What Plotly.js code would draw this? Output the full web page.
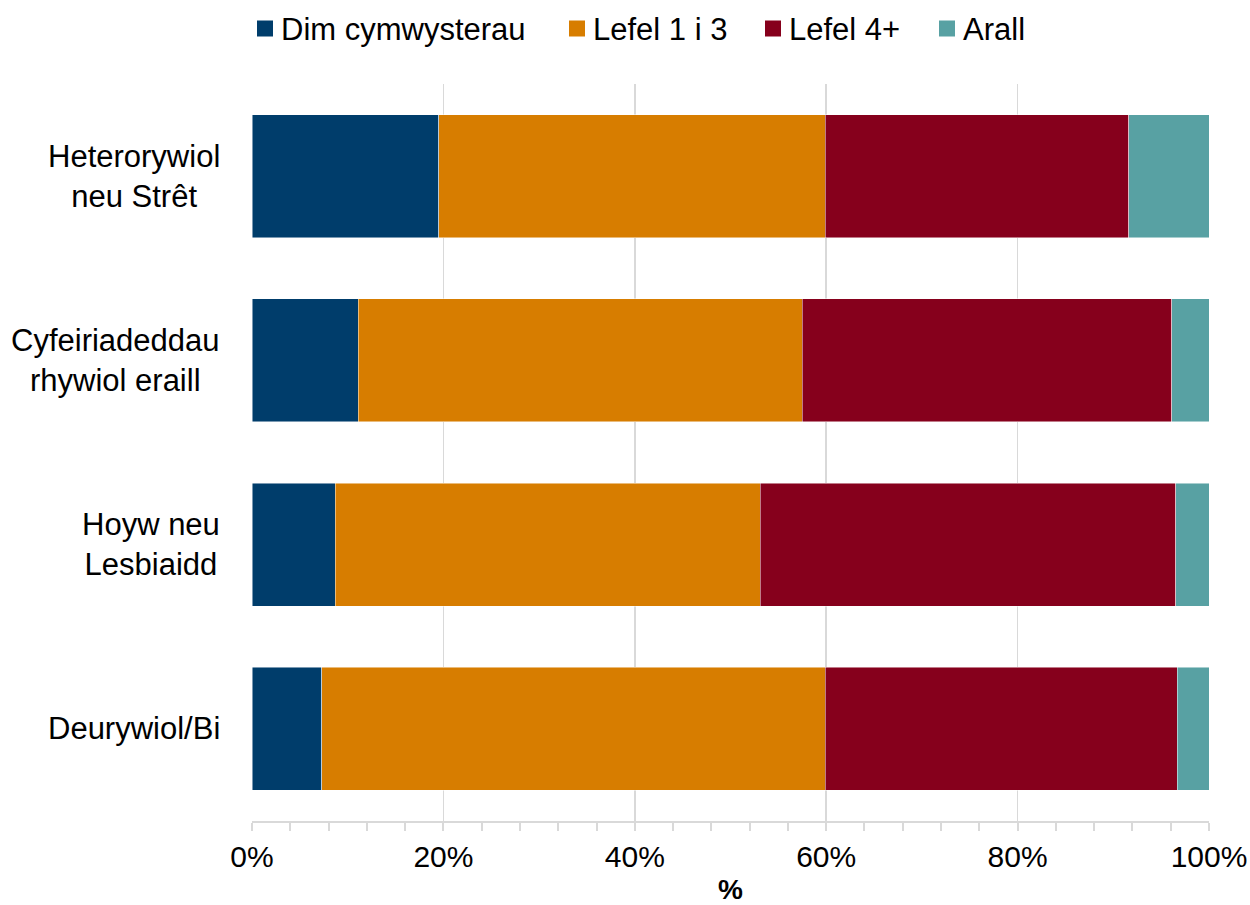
<!DOCTYPE html>
<html>
<head>
<meta charset="utf-8">
<script src="https://cdn.plot.ly/plotly-3.0.1.min.js"></script>
<style>html,body{margin:0;padding:0;background:#fff;}#chart{width:1250px;height:905px;}</style>
</head>
<body>
<div id="chart"></div>
<script>
const categories = ["Heterorywiol<br>neu Strêt", "Cyfeiriadeddau<br>rhywiol eraill", "Hoyw neu<br>Lesbiaidd", "Deurywiol/Bi"];
const seriesNames = ["Dim cymwysterau", "Lefel 1 i 3", "Lefel 4+", "Arall"];
const dimCymwysterau = [19.5, 11.1, 8.7, 7.3];
const lefel1i3 = [40.4, 46.4, 44.4, 52.6];
const lefel4plus = [31.7, 38.6, 43.4, 36.8];
const arall = [8.4, 3.9, 3.5, 3.3];
const xTickVals = [0, 20, 40, 60, 80, 100];
const xTickText = ["0%", "20%", "40%", "60%", "80%", "100%"];

const colors = ["#003D6B", "#D77D00", "#86001C", "#58A1A3"];
const seriesValues = [dimCymwysterau, lefel1i3, lefel4plus, arall];
const font = {family: "Liberation Sans, Arial, sans-serif", color: "#000"};

// plot area in pixels (for placing the custom legend)
const plotL = 252, plotW = 957, plotB = 821, plotH = 737;
const px2x = p => (p - plotL) / plotW;
const px2y = p => (plotB - p) / plotH;
const legendSquareLeft = [257, 569, 765, 939];

const traces = seriesValues.map((vals, i) => ({
  type: "bar",
  orientation: "h",
  name: seriesNames[i],
  y: categories,
  x: vals,
  marker: {color: colors[i], line: {color: "rgba(255,255,255,0.6)", width: 0.8}},
  hoverinfo: "x+name",
  showlegend: false
}));

const annotations = categories.map(c => ({
  xref: "paper", yref: "y", x: -0.0313, y: c,
  xanchor: "right", yanchor: "middle", align: "center",
  text: c, showarrow: false,
  font: Object.assign({}, font, {size: 31})
}));

const shapes = [];
seriesNames.forEach((n, i) => {
  const l = legendSquareLeft[i];
  shapes.push({
    type: "rect", xref: "paper", yref: "paper",
    x0: px2x(l), x1: px2x(l + 16), y0: px2y(36.5), y1: px2y(20.5),
    fillcolor: colors[i], line: {width: 0}
  });
  annotations.push({
    xref: "paper", yref: "paper", x: px2x(l + 22), y: px2y(29),
    xanchor: "left", yanchor: "middle", text: n, showarrow: false,
    font: Object.assign({}, font, {size: 31})
  });
});

const layout = {
  width: 1250, height: 905,
  margin: {l: 252, r: 41, t: 84, b: 84},
  barmode: "stack",
  bargap: 0.333,
  paper_bgcolor: "#fff",
  plot_bgcolor: "#fff",
  font: Object.assign({}, font, {size: 30}),
  showlegend: false,
  xaxis: {
    range: [0, 100],
    tickvals: xTickVals,
    ticktext: xTickText,
    showgrid: true,
    gridcolor: "#d9d9d9",
    gridwidth: 1.5,
    zeroline: false,
    showline: true,
    linecolor: "#d9d9d9",
    linewidth: 2,
    ticks: "outside",
    ticklen: 8,
    tickwidth: 2,
    tickcolor: "#d9d9d9",
    minor: {dtick: 4, tick0: 0, ticks: "outside", ticklen: 8, tickwidth: 2, tickcolor: "#d9d9d9", showgrid: false},
    tickfont: Object.assign({}, font, {size: 30}),
    title: {text: "<b>%</b>", font: Object.assign({}, font, {size: 28}), standoff: 8},
    fixedrange: true
  },
  yaxis: {
    type: "category",
    categoryorder: "array",
    categoryarray: categories,
    autorange: "reversed",
    showticklabels: false,
    showgrid: false,
    zeroline: false,
    showline: false,
    ticks: "",
    fixedrange: true
  },
  shapes: shapes,
  annotations: annotations
};

Plotly.newPlot("chart", traces, layout, {displayModeBar: false, staticPlot: true});
</script>
</body>
</html>
